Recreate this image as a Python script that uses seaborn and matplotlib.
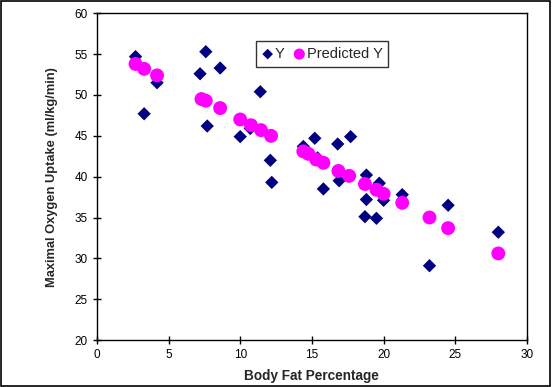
import seaborn as sns
import matplotlib.pyplot as plt
from matplotlib.patches import Rectangle
import pandas as pd

# observed values (Y)
body_fat_y = [2.7, 3.3, 4.2, 7.2, 7.6, 7.7, 8.6, 10.0, 10.7, 11.4, 12.1, 12.2,
              14.4, 15.2, 15.4, 15.8, 16.8, 16.9, 17.7, 18.8, 18.8, 18.7,
              19.7, 20.0, 19.5, 21.3, 23.2, 24.5, 28.0]
vo2_y = [54.7, 47.7, 51.5, 52.6, 55.3, 46.2, 53.3, 44.9, 45.9, 50.4, 42.0, 39.3,
         43.7, 44.7, 42.3, 38.5, 44.0, 39.5, 44.9, 40.2, 37.2, 35.1,
         39.2, 37.1, 34.9, 37.8, 29.1, 36.5, 33.2]

# fitted values (Predicted Y)
body_fat_pred = [2.7, 3.3, 4.2, 7.3, 7.6, 8.6, 10.0, 10.75, 11.45, 12.15,
                 14.4, 14.75, 15.3, 15.8, 16.85, 17.6, 18.7, 19.5, 20.0,
                 21.3, 23.2, 24.5, 28.0]
vo2_pred = [53.8, 53.2, 52.4, 49.5, 49.3, 48.4, 47.0, 46.3, 45.7, 45.0,
            43.1, 42.8, 42.1, 41.7, 40.7, 40.1, 39.1, 38.4, 37.9,
            36.8, 35.0, 33.7, 30.6]

df_y = pd.DataFrame({'x': body_fat_y, 'y': vo2_y})
df_p = pd.DataFrame({'x': body_fat_pred, 'y': vo2_pred})

sns.set_style('white')
plt.rcParams['font.family'] = ['Liberation Sans', 'DejaVu Sans']

fig = plt.figure(figsize=(5.52, 3.87), dpi=100)
ax = fig.add_axes([0.1754, 0.1214, 0.7793, 0.8442])

sns.scatterplot(data=df_y, x='x', y='y', ax=ax, marker='D', s=46,
                color='#000080', edgecolor='none', label='Y', zorder=2)
sns.scatterplot(data=df_p, x='x', y='y', ax=ax, marker='o', s=100,
                color='#ff00ff', edgecolor='none', label='Predicted Y', zorder=3)

ax.set_xlim(0, 30)
ax.set_ylim(20, 60)
ax.set_xticks(range(0, 31, 5))
ax.set_yticks(range(20, 61, 5))
ax.tick_params(direction='inout', length=6, width=1, labelsize=8.5,
               colors='black', left=True, bottom=True)
for s in ax.spines.values():
    s.set_color('black')
    s.set_linewidth(1)

ax.set_xlabel('Body Fat Percentage', fontsize=9.8, fontweight='bold', labelpad=6)
ax.set_ylabel('Maximal Oxygen Uptake (ml/kg/min)', fontsize=9.3,
              fontweight='bold', labelpad=12)

leg = ax.legend(loc='upper left', bbox_to_anchor=(0.370, 0.915), ncol=2,
                frameon=True, fancybox=False, borderaxespad=0,
                fontsize=10.5, handletextpad=0.1, columnspacing=0.6,
                handlelength=0.8, borderpad=0.4, markerscale=0.8)
leg.get_frame().set_edgecolor('black')
leg.get_frame().set_linewidth(1)

fig.patches.append(Rectangle((0.002, 0.003), 0.995, 0.994, transform=fig.transFigure,
                             fill=False, edgecolor='black', linewidth=1.2))

fig.savefig('out.png', dpi=100)
